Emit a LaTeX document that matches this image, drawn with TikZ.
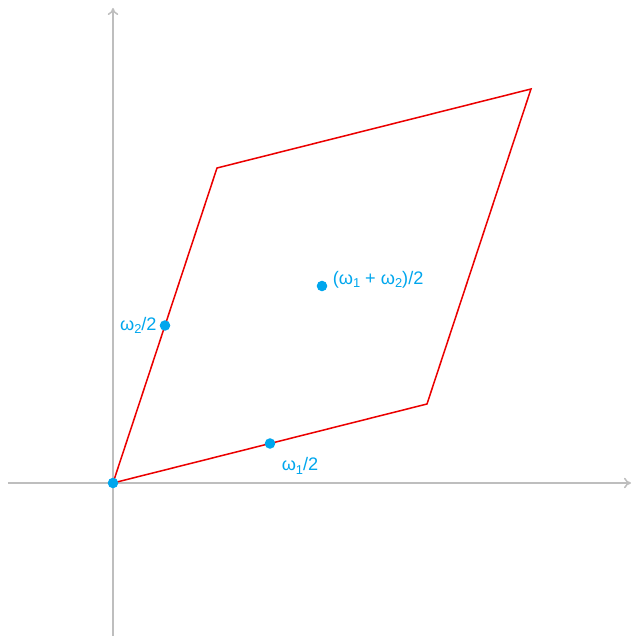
\documentclass[tikz,border=0pt]{standalone}
\usepackage{fontspec}
\setmainfont{Liberation Sans}
\usetikzlibrary{arrows.meta}
\definecolor{axisgray}{RGB}{190,190,190}
\definecolor{dotblue}{RGB}{0,166,237}
\definecolor{latred}{RGB}{235,0,0}
\newcommand{\om}[1]{ω\raisebox{-0.35ex}{\fontsize{11}{12}\selectfont #1}}
\tikzset{
  axis/.style={draw=axisgray,line width=1.3pt,-{To[length=6pt,width=9pt]}},
  cell/.style={draw=latred,line width=1.3pt,line join=miter},
  pt/.style={circle,fill=dotblue,inner sep=0pt,minimum size=9pt},
  lab/.style={text=dotblue,font=\fontsize{15.5}{17}\selectfont,inner sep=1pt}
}
\begin{document}
\begin{tikzpicture}[x=0.03cm,y=0.03cm]
\useasboundingbox (-113,-153) rectangle (518,483);
% axes
\coordinate (xl) at (-105,0);
\coordinate (xr) at (518,0);
\coordinate (yb) at (0,-153);
\coordinate (yt) at (0,475);
\draw[axis] (xl) -- (xr);
\draw[axis] (yb) -- (yt);
% period parallelogram
\coordinate (O) at (0,0);
\coordinate (w1) at (314,79);
\coordinate (w2) at (104,315);
\coordinate (w12) at (418,394);
\draw[cell] (O) -- (w1) -- (w12) -- (w2) -- cycle;
% half periods
\node[pt] (o) at (O) {};
\node[pt] (h1) at (157,39.5) {};
\node[pt] (h2) at (52,157.5) {};
\node[pt] (h12) at (209,197) {};
\node[lab] (l1) at (187,17) {\om{1}/2};
\node[lab,anchor=east] (l2) at ([xshift=-6pt]h2.center) {\om{2}/2};
\node[lab,anchor=south west] (l12) at ([xshift=8pt,yshift=-3pt]h12.center) {(\om{1} + \om{2})/2};
\end{tikzpicture}
\end{document}
